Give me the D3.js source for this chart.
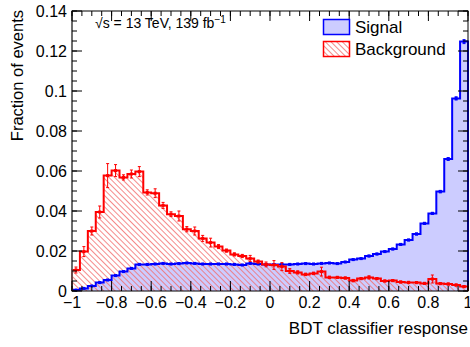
<!DOCTYPE html>
<html lang="en">
<head>
<meta charset="UTF-8">
<script src="https://d3js.org/d3.v7.min.js"></script>
<style>
  body { margin: 0; background: #fff; }
  text { font-family: "Liberation Sans", Arial, sans-serif; fill: #000; }
</style>
</head>
<body>
<script>
// binning of the BDT output
var nBins = 50, xMin = -1, xMax = 1;

// signal fractions per bin
var signal = [0.0005, 0.0013, 0.0025, 0.0042, 0.0055, 0.0077, 0.0097, 0.0113, 0.0133, 0.0133,
              0.0135, 0.0138, 0.0135, 0.0137, 0.0140, 0.0138, 0.0135, 0.0135, 0.0135, 0.0135,
              0.0133, 0.0130, 0.0138, 0.0135, 0.0132, 0.0132, 0.0133, 0.0133, 0.0135, 0.0137,
              0.0135, 0.0138, 0.0140, 0.0137, 0.0145, 0.0157, 0.0162, 0.0175, 0.0185, 0.0197,
              0.0210, 0.0233, 0.0255, 0.0285, 0.0338, 0.0388, 0.0497, 0.0660, 0.0963, 0.1247];
var signalErr = [0.0002, 0.0002, 0.0003, 0.0003, 0.0003, 0.0003, 0.0003, 0.0003, 0.0003, 0.0003,
                 0.0003, 0.0003, 0.0003, 0.0003, 0.0003, 0.0003, 0.0003, 0.0003, 0.0003, 0.0003,
                 0.0003, 0.0003, 0.0003, 0.0003, 0.0003, 0.0003, 0.0003, 0.0003, 0.0003, 0.0003,
                 0.0003, 0.0003, 0.0003, 0.0003, 0.0003, 0.0003, 0.0003, 0.0004, 0.0004, 0.0004,
                 0.0004, 0.0004, 0.0004, 0.0005, 0.0005, 0.0005, 0.0006, 0.0007, 0.0008, 0.0010];

// background fractions per bin
var background = [0.0105, 0.0197, 0.0300, 0.0395, 0.0577, 0.0602, 0.0568, 0.0585, 0.0597, 0.0493,
                  0.0489, 0.0428, 0.0384, 0.0375, 0.0309, 0.0300, 0.0263, 0.0242, 0.0222, 0.0202,
                  0.0183, 0.0175, 0.0163, 0.0147, 0.0133, 0.0130, 0.0122, 0.0100, 0.0093, 0.0083,
                  0.0088, 0.0097, 0.0068, 0.0068, 0.0065, 0.0052, 0.0062, 0.0068, 0.0062, 0.0050,
                  0.0052, 0.0045, 0.0043, 0.0042, 0.0038, 0.0060, 0.0037, 0.0035, 0.0030, 0.0022];
var backgroundErr = [0.0015, 0.0025, 0.0020, 0.0030, 0.0060, 0.0030, 0.0013, 0.0020, 0.0025, 0.0013,
                     0.0022, 0.0015, 0.0012, 0.0025, 0.0013, 0.0020, 0.0015, 0.0022, 0.0010, 0.0008,
                     0.0008, 0.0008, 0.0015, 0.0008, 0.0012, 0.0022, 0.0020, 0.0012, 0.0008, 0.0006,
                     0.0006, 0.0022, 0.0006, 0.0005, 0.0005, 0.0006, 0.0005, 0.0008, 0.0005, 0.0005,
                     0.0005, 0.0005, 0.0005, 0.0005, 0.0005, 0.0020, 0.0005, 0.0005, 0.0005, 0.0005];

// axis ticks
var xTicks = [-1, -0.8, -0.6, -0.4, -0.2, 0, 0.2, 0.4, 0.6, 0.8, 1];
var yTicks = [0, 0.02, 0.04, 0.06, 0.08, 0.1, 0.12, 0.14];
var yTickLabels = ["0", "0.02", "0.04", "0.06", "0.08", "0.1", "0.12", "0.14"];

var margin = {top: 11, right: 2, bottom: 56, left: 72},
    width = 470 - margin.left - margin.right,
    height = 347 - margin.top - margin.bottom;

var x = d3.scaleLinear().domain([xMin, xMax]).range([0, width]);
var y = d3.scaleLinear().domain([0, 0.14]).range([height, 0]);
var binW = (xMax - xMin) / nBins;

var svg = d3.select("body").append("svg")
    .attr("width", 470)
    .attr("height", 347);

// hatch for background
var defs = svg.append("defs");
defs.append("pattern")
    .attr("id", "hatch")
    .attr("patternUnits", "userSpaceOnUse")
    .attr("width", 4).attr("height", 4)
    .attr("patternTransform", "rotate(-45)")
  .append("line")
    .attr("x1", 0.5).attr("y1", 0).attr("x2", 0.5).attr("y2", 4)
    .attr("stroke", "#f26d6d").attr("stroke-width", 0.8);

var g = svg.append("g")
    .attr("transform", "translate(" + margin.left + "," + margin.top + ")");

// step points for a histogram: start and end at zero
function stepPoints(vals) {
  var pts = [[xMin, 0]];
  vals.forEach(function(v, i) { pts.push([xMin + i * binW, v]); });
  pts.push([xMax, vals[vals.length - 1]]);
  pts.push([xMax, 0]);
  return pts;
}

var stepLine = d3.line()
    .x(function(d) { return x(d[0]); })
    .y(function(d) { return y(d[1]); })
    .curve(d3.curveStepAfter);

var stepArea = d3.area()
    .x(function(d) { return x(d[0]); })
    .y0(y(0))
    .y1(function(d) { return y(d[1]); })
    .curve(d3.curveStepAfter);

// fills: signal solid, background hatch on top
g.append("path").datum(stepPoints(signal))
    .attr("d", stepArea).attr("fill", "#ccccff");
g.append("path").datum(stepPoints(background))
    .attr("d", stepArea).attr("fill", "url(#hatch)");

function drawHist(vals, errs, col) {
  g.append("path").datum(stepPoints(vals))
      .attr("d", stepLine)
      .attr("fill", "none")
      .attr("stroke", col)
      .attr("stroke-width", 2);

  var pts = g.append("g").selectAll("g")
      .data(vals.map(function(v, i) { return {c: xMin + (i + 0.5) * binW, v: v, e: errs[i]}; }))
    .enter().append("g");
  pts.append("line")
      .attr("x1", function(d) { return x(d.c); })
      .attr("x2", function(d) { return x(d.c); })
      .attr("y1", function(d) { return y(d.v - d.e); })
      .attr("y2", function(d) { return y(d.v + d.e); })
      .attr("stroke", col).attr("stroke-width", 1);
  [-1, 1].forEach(function(s) {
    pts.append("line")
        .attr("x1", function(d) { return x(d.c) - 1.5; })
        .attr("x2", function(d) { return x(d.c) + 1.5; })
        .attr("y1", function(d) { return y(d.v + s * d.e); })
        .attr("y2", function(d) { return y(d.v + s * d.e); })
        .attr("stroke", col).attr("stroke-width", 1);
  });
  pts.append("rect")
      .attr("x", function(d) { return x(d.c) - 1.5; })
      .attr("y", function(d) { return y(d.v) - 1.5; })
      .attr("width", 3).attr("height", 3)
      .attr("fill", col);
}

drawHist(signal, signalErr, "#0000ff");
drawHist(background, backgroundErr, "#ff0000");

// frame
g.append("rect")
    .attr("width", width).attr("height", height)
    .attr("fill", "none").attr("stroke", "#000").attr("stroke-width", 1);
g.append("line")
    .attr("x1", 0).attr("x2", 0).attr("y1", 0).attr("y2", height)
    .attr("stroke", "#666").attr("stroke-width", 1.5);

// ticks on all four sides, inward
var xMinor = d3.range(xMin, xMax + 1e-9, 0.05);
var yMinor = d3.range(0, 0.14 + 1e-9, 0.005);
var tickG = g.append("g").attr("stroke", "#000").attr("stroke-width", 1);

function xTickLines(vals, len) {
  vals.forEach(function(v) {
    tickG.append("line").attr("x1", x(v)).attr("x2", x(v)).attr("y1", height).attr("y2", height - len);
    tickG.append("line").attr("x1", x(v)).attr("x2", x(v)).attr("y1", 0).attr("y2", len);
  });
}
function yTickLines(vals, len) {
  vals.forEach(function(v) {
    tickG.append("line").attr("x1", 0).attr("x2", len).attr("y1", y(v)).attr("y2", y(v));
    tickG.append("line").attr("x1", width).attr("x2", width - len).attr("y1", y(v)).attr("y2", y(v));
  });
}
xTickLines(xMinor, 5);
xTickLines(xTicks, 10);
yTickLines(yMinor, 5);
yTickLines(yTicks, 10);

// tick labels
var fmt = d3.format("");
g.selectAll(".xlab").data(xTicks).enter().append("text")
    .attr("x", function(d) { return x(d); })
    .attr("y", height + 17)
    .attr("text-anchor", "middle")
    .style("font-size", "16px")
    .text(function(d) { return fmt(d); });

g.selectAll(".ylab").data(yTicks).enter().append("text")
    .attr("x", -5)
    .attr("y", function(d) { return y(d); })
    .attr("dy", "0.35em")
    .attr("text-anchor", "end")
    .style("font-size", "16px")
    .text(function(d, i) { return yTickLabels[i]; });

// axis titles
svg.append("text")
    .attr("x", 468).attr("y", 334)
    .attr("text-anchor", "end")
    .style("font-size", "17px")
    .text("BDT classifier response");

svg.append("text")
    .attr("transform", "translate(23,10) rotate(-90)")
    .attr("text-anchor", "end")
    .style("font-size", "16.5px")
    .text("Fraction of events");

// energy / luminosity label
var lumi = svg.append("text")
    .attr("x", 95).attr("y", 28)
    .style("font-size", "14px");
lumi.append("tspan").text("\u221As = 13 TeV, 139 fb");
lumi.append("tspan").attr("dy", -5).style("font-size", "10px").text("\u22121");

// legend
var legend = svg.append("g");
legend.append("rect")
    .attr("x", 323.5).attr("y", 19.5).attr("width", 26).attr("height", 15)
    .attr("fill", "#ccccff").attr("stroke", "#0000ff").attr("stroke-width", 1.5);
legend.append("rect")
    .attr("x", 323.5).attr("y", 41.5).attr("width", 26).attr("height", 15)
    .attr("fill", "url(#hatch)").attr("stroke", "#ff0000").attr("stroke-width", 1.5);
legend.append("text").attr("x", 355).attr("y", 33).style("font-size", "17px").text("Signal");
legend.append("text").attr("x", 355).attr("y", 55).style("font-size", "17px").text("Background");
</script>
</body>
</html>
